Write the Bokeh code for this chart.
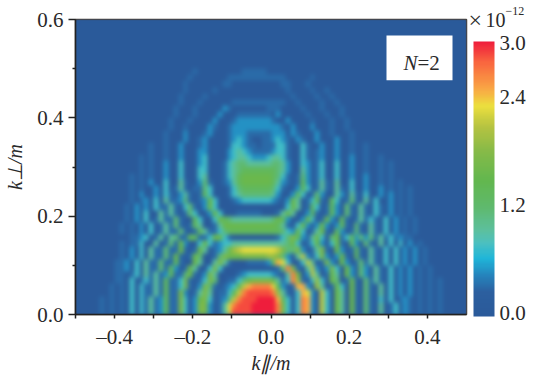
import numpy as np
from bokeh.plotting import figure
from bokeh.models import (LinearColorMapper, ColorBar, FixedTicker, Label, BoxAnnotation,
                          PrintfTickFormatter)
from bokeh.embed import file_html
from bokeh.resources import INLINE

# Colour level per cell (see level_values).
# 80 columns (k_par -0.5 .. 0.5) by 48 rows (k_perp 0.0 .. 0.6), bottom row first.
level_values = [0, .32, .5, .75, .95, 1.15, 1.35, 1.55, 1.7, 1.9, 2.1, 2.25, 2.45, 2.65, 2.85, 3.0]
r00 = "0000010101 0303141261 1830288201 4beeeeffff fd8303dc20 a307407105 1040130210 1010100000"
r01 = "0000010101 0303141261 1830288201 4bdeeeffff fd8303dc20 a307407105 1040130210 1010100000"
r02 = "0000010101 0303141261 1830278301 25adeeefff fc6303dc20 a307407105 1030301210 1010100000"
r03 = "0000000101 0303114161 1820148401 136adeeeee d94103cb20 a307407105 1040302020 1010100000"
r04 = "0000000101 0303114161 1381028510 1236acdddd b6201cc209 4017307105 1040302020 1010100000"
r05 = "0000000011 0301314161 1381013850 0113578888 7413d91039 3075017105 1410302020 1010100000"
r06 = "0000000011 0130414126 1157102840 0001233333 2104d702a4 0174072052 0410302020 1010000000"
r07 = "0000000011 2030411516 2017400383 0000000000 015d8104a2 0283072052 0410302020 1010000000"
r08 = "0000000011 2030411511 6100740048 4100011112 6cb3003a40 1820720151 4103030202 0100000000"
r09 = "0000000001 0203041151 7101750015 8777888889 985204a203 8202710610 4103030202 0100000000"
r10 = "0000000001 0203041151 1710174012 479abbbbbb ba85582014 8107201610 4103030202 0100000000"
r11 = "0000000001 0113004015 1720037312 3344444444 4445730137 2037106205 1040303020 1000000000"
r12 = "0000000000 0112301404 5116611377 3100000000 0135862147 3057136252 5141312110 0000000000"
r13 = "0000000001 0102030141 1510164113 5666666666 6653273014 7106201510 4103020101 0000000000"
r14 = "0000000001 0102030141 5101640014 7777777777 7641037202 7202610510 4103020101 0000000000"
r15 = "0000000000 1020301411 5100630037 6544444444 5762002730 1720610141 3103020101 0000000000"
r16 = "0000000000 1020300414 1015300273 0001111100 0147400261 0162051041 0310201010 0000000000"
r17 = "0000000000 1020203114 1035102730 0000000000 0003740163 0162051041 0310201010 0000000000"
r18 = "0000000000 0101203041 1251012730 0012333333 2102740136 1063015104 0300201010 0000000000"
r19 = "0000000000 0102002031 0241016300 0134555555 4200263015 2004204103 0020201010 0000000000"
r20 = "0000000000 0101002030 1410115300 0135666666 5310026301 4104103002 0020101010 0000000000"
r21 = "0000000000 0101020030 0410025100 1246777777 6421016201 4104003002 0010101000 0000000000"
r22 = "0000000000 0101010020 0300034000 1346777777 6531015201 3003002002 0010100000 0000000000"
r23 = "0000000000 0001010020 0300033000 1345666666 6542004201 3003002001 0010100000 0000000000"
r24 = "0000000000 0001010020 0300023000 1345544444 5542003201 3003002001 0010100000 0000000000"
r25 = "0000000000 0001010010 0200023000 0234432223 4431003101 2002002001 0010000000 0000000000"
r26 = "0000000000 0000010010 0200022000 0234321111 2331003101 2002001001 0000000000 0000000000"
r27 = "0000000000 0000010010 0200012000 0133211011 1331003100 2002001001 0000000000 0000000000"
r28 = "0000000000 0000000010 0020012000 0123210011 2321021002 0002001000 0000000000 0000000000"
r29 = "0000000000 0000000010 0020001200 0122211111 2220210002 0010001000 0000000000 0000000000"
r30 = "0000000000 0000000001 0010000210 0122222222 2210200020 0010010000 0000000000 0000000000"
r31 = "0000000000 0000000001 0001000020 0012222222 1002000010 0010010000 0000000000 0000000000"
r32 = "0000000000 0000000000 1000100002 0001111111 0200000100 0100100000 0000000000 0000000000"
r33 = "0000000000 0000000000 1000100000 2100000001 1100001000 1000100000 0000000000 0000000000"
r34 = "0000000000 0000000000 0100010000 0011111111 1110010000 1001000000 0000000000 0000000000"
r35 = "0000000000 0000000000 0100001000 0000000000 0000100001 0010000000 0000000000 0000000000"
r36 = "0000000000 0000000000 0010000010 0000000000 0001000010 0100000000 0000000000 0000000000"
r37 = "0000000000 0000000000 0010000000 1100000000 0011000100 0000000000 0000000000 0000000000"
r38 = "0000000000 0000000000 0001000000 0111111111 1110000010 0000000000 0000000000 0000000000"
r39 = "0000000000 0000000000 0000100000 0000111110 0000000000 0000000000 0000000000 0000000000"
r40 = "0000000000 0000000000 0000000000 0000000000 0000000000 0000000000 0000000000 0000000000"
r41 = r40
r42 = r40
r43 = r40
r44 = r40
r45 = r40
r46 = r40
r47 = r40
row_list = [r00, r01, r02, r03, r04, r05, r06, r07, r08, r09, r10, r11, r12, r13, r14, r15,
            r16, r17, r18, r19, r20, r21, r22, r23, r24, r25, r26, r27, r28, r29, r30, r31,
            r32, r33, r34, r35, r36, r37, r38, r39, r40, r41, r42, r43, r44, r45, r46, r47]
x_ticks = [-0.4, -0.2, 0.0, 0.2, 0.4]
x_minor = [-0.5, -0.3, -0.1, 0.1, 0.3]
y_ticks = [0.0, 0.2, 0.4, 0.6]
y_minor = [0.1, 0.3, 0.5]
bar_ticks = [0.0, 1.2, 2.4, 3.0]

grid = np.array([[level_values[int(c, 16)] for c in r.replace(" ", "")] for r in row_list])

stops = [(0, "#2a5a9a"), (0.26, "#2c5f9f"), (0.45, "#2585bd"), (0.63, "#1fb6d9"), (0.8, "#4cc0c0"),
         (0.93, "#5cc09f"), (1.2, "#5fb96c"), (1.48, "#62b74f"), (1.8, "#86ba48"), (2.07, "#b5c341"),
         (2.3, "#ecdf3e"), (2.48, "#f9a845"), (2.78, "#f9653f"), (3.0, "#ef1d3c")]
sv = [s[0] for s in stops]
rgb = np.array([[int(s[1][i:i + 2], 16) for i in (1, 3, 5)] for s in stops])
palette = []
for t in np.linspace(0, 3, 256):
    c = [int(round(np.interp(t, sv, rgb[:, k]))) for k in range(3)]
    palette.append("#%02x%02x%02x" % tuple(c))

FL, FR, FT, FB = 75, 466, 19, 315   # frame edges on the page
W, H = 538, 376


def dx(px):
    return (px - FL) / (FR - FL) - 0.5


def dy(py):
    return (FB - py) / (FB - FT) * 0.6


SERIF = "Liberation Serif"
p = figure(width=W, height=H, x_range=(-0.5, 0.5), y_range=(0, 0.6), output_backend="svg",
           toolbar_location=None, min_border_left=FL, min_border_right=W - FR,
           min_border_top=FT, min_border_bottom=H - FB, background_fill_color="#2a5a9a")
p.grid.visible = False
mapper = LinearColorMapper(palette=palette, low=0, high=3)
p.image(image=[grid], x=-0.5, y=0, dw=1, dh=0.6, color_mapper=mapper)
p.outline_line_color = "#4a4038"
p.outline_line_width = 1.5

for ax, maj, mnr in ((p.xaxis[0], x_ticks, x_minor), (p.yaxis[0], y_ticks, y_minor)):
    ax.ticker = FixedTicker(ticks=maj, minor_ticks=mnr)
    ax.major_label_text_font = SERIF
    ax.major_label_text_font_size = "21px"
    ax.major_label_text_color = "#2a2a2a"
    ax.axis_line_color = "#222222"
    ax.axis_line_width = 1.5
    ax.major_tick_line_color = "#222222"
    ax.minor_tick_line_color = "#222222"
    ax.major_tick_line_width = 1.5
    ax.minor_tick_line_width = 1.5
    ax.major_tick_in = 0
    ax.minor_tick_in = 0
    ax.formatter = PrintfTickFormatter(format="%.1f")
    ax.axis_label_text_font = SERIF
    ax.axis_label_text_font_size = "20px"
    ax.axis_label_text_font_style = "italic"
    ax.axis_label_text_color = "#2a2a2a"
p.xaxis[0].axis_label = "k\u2225/m"
p.yaxis[0].axis_label = "k\u22a5/m"
p.xaxis[0].axis_label_standoff = 0
p.yaxis[0].axis_label_standoff = 8
p.xaxis[0].major_tick_out = 4
p.xaxis[0].minor_tick_out = 4
p.xaxis[0].major_label_standoff = 6
p.yaxis[0].major_tick_out = 7
p.yaxis[0].minor_tick_out = 3
p.yaxis[0].major_label_standoff = 5
p.xaxis[0].major_label_overrides = {v: ("%.1f" % v).replace("-", "\u2013") for v in x_ticks}

bar_mapper = LinearColorMapper(palette=palette, low=-0.04, high=3.02)
cb = ColorBar(color_mapper=bar_mapper, location=(473 - FL, FB - 317), width=21, height=275,
              padding=0, margin=0, ticker=FixedTicker(ticks=bar_ticks),
              formatter=PrintfTickFormatter(format="%.1f"), major_tick_line_color=None,
              minor_tick_line_color=None, bar_line_color=None, label_standoff=5,
              major_label_text_font=SERIF, major_label_text_font_size="21px",
              major_label_text_color="#2a2a2a", background_fill_alpha=0, border_line_color=None)
p.add_layout(cb, "center")

p.add_layout(BoxAnnotation(left=dx(386), right=dx(452), top=dy(35), bottom=dy(80),
                           fill_color="white", fill_alpha=1, line_color=None))


def lab(px, py, text, size, style="normal", side="center", x0=FL):
    p.add_layout(Label(x=px - x0, y=FB - py, x_units="screen", y_units="screen", text=text,
                       text_font=SERIF, text_font_size=f"{size}px", text_font_style=style,
                       text_color="#2a2a2a", text_align="left", text_baseline="alphabetic"), side)


lab(403, 63, "N", 21, "italic")
lab(417, 63, "=2", 21)
# Labels in a side panel stack, so each one's origin is past the one before it.
lab(468, 20, "\u00d7", 24, side="right", x0=FR)
lab(487, 20, "10", 20, side="right", x0=482)
lab(507, 11, "\u221212", 12, side="right", x0=502)

# Soften the large cell image on screen, as the reference's raster is soft.
soften = """<script>
function walk(root){root.querySelectorAll('*').forEach(function(el){
  if(el.tagName.toLowerCase()==='image' && el.getBoundingClientRect().width>100){el.style.filter='blur(2.2px)';}
  if(el.shadowRoot) walk(el.shadowRoot);});}
var n=0; var t=setInterval(function(){walk(document); if(++n>40) clearInterval(t);},50);
</script></body>"""
html = file_html(p, INLINE).replace("</body>", soften)
open("out.html", "w").write(html)
